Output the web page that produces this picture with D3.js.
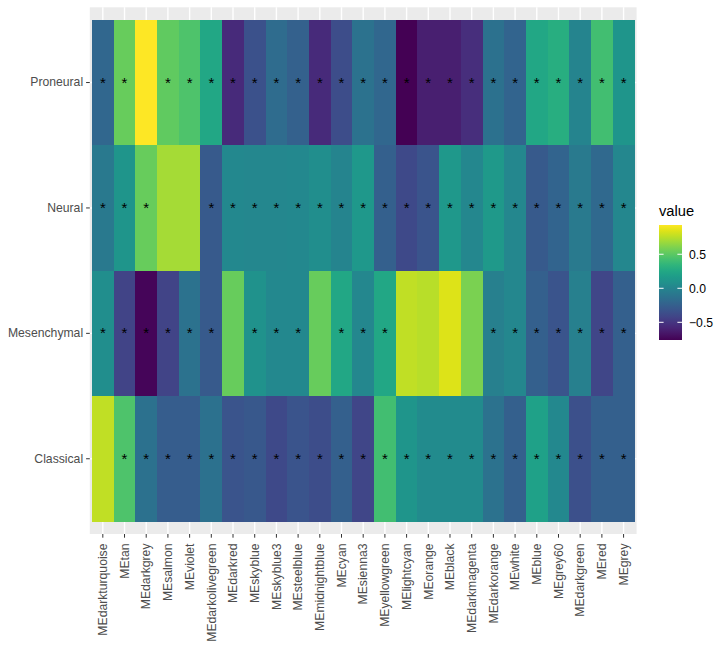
<!DOCTYPE html>
<html>
<head>
<meta charset="utf-8">
<script src="https://cdn.jsdelivr.net/npm/d3@7"></script>
<style>
  html, body { margin: 0; padding: 0; background: #fff; }
  svg { display: block; font-family: "Liberation Sans", Arial, sans-serif; }
</style>
</head>
<body>
<svg id="chart" width="725" height="647"></svg>
<script>
// ---- data ----
const modules = ["MEdarkturquoise","MEtan","MEdarkgrey","MEsalmon","MEviolet","MEdarkolivegreen",
  "MEdarkred","MEskyblue","MEskyblue3","MEsteelblue","MEmidnightblue","MEcyan","MEsienna3",
  "MEyellowgreen","MElightcyan","MEorange","MEblack","MEdarkmagenta","MEdarkorange","MEwhite",
  "MEblue","MEgrey60","MEdarkgreen","MEred","MEgrey"];
const subtypes = ["Proneural","Neural","Mesenchymal","Classical"];

const proneural   = [-0.20, 0.54, 0.93, 0.52, 0.46, 0.25, -0.56, -0.34, -0.17, -0.24, -0.56, -0.37, -0.12,
                     -0.20, -0.76, -0.62, -0.62, -0.54, -0.13, -0.22, 0.25, 0.30, 0.00, 0.42, 0.12];
const neural      = [-0.08, 0.12, 0.54, 0.70, 0.70, -0.29, 0.03, 0.02, 0.02, 0.03, 0.07, 0.00, 0.14,
                     -0.25, -0.39, -0.32, 0.14, 0.02, 0.15, 0.02, -0.29, -0.22, -0.07, -0.19, 0.02];
const mesenchymal = [0.07, -0.42, -0.74, -0.42, -0.12, -0.29, 0.54, 0.10, 0.03, 0.03, 0.54, 0.25, 0.02,
                     0.25, 0.77, 0.75, 0.84, 0.59, -0.03, 0.02, -0.25, -0.32, -0.03, -0.41, -0.25];
const classical   = [0.77, 0.46, -0.13, -0.27, -0.27, -0.13, -0.32, -0.30, -0.39, -0.32, -0.37, -0.25, -0.41,
                     0.42, 0.12, 0.05, 0.05, 0.05, -0.12, -0.25, 0.20, 0.03, -0.35, -0.25, -0.25];

const sigProneural   = [1,1,0,1,1,1,1,1,1,1,1,1,1,1,1,1,1,1,1,1,1,1,1,1,1];
const sigNeural      = [1,1,1,0,0,1,1,1,1,1,1,1,1,1,1,1,1,1,1,1,1,1,1,1,1];
const sigMesenchymal = [1,1,1,1,1,1,0,1,1,1,0,1,1,1,0,0,0,0,1,1,1,1,1,1,1];
const sigClassical   = [0,1,1,1,1,1,1,1,1,1,1,1,1,1,1,1,1,1,1,1,1,1,1,1,1];

const legendTicks = [-0.5, 0.0, 0.5];
const legendTitle = "value";

// ---- build cells ----
const rowValues = [proneural, neural, mesenchymal, classical];
const rowSig = [sigProneural, sigNeural, sigMesenchymal, sigClassical];
const cells = [];
subtypes.forEach((s, r) => {
  modules.forEach((m, c) => {
    cells.push({ row: s, col: m, value: rowValues[r][c], sig: rowSig[r][c] ? "*" : "" });
  });
});

// ---- layout ----
const svg = d3.select("#chart");
const panel = { left: 89.8, right: 636.6, top: 7.3, bottom: 534 };
const axisColor = "#4D4D4D";
const tickColor = "#333333";
const axisFont = 12.2;

const nx = modules.length, ny = subtypes.length;
const xUnit = (panel.right - panel.left) / (nx + 0.2);
const yUnit = (panel.bottom - panel.top) / (ny + 0.2);
const x = d3.scaleBand().domain(modules)
  .range([panel.left + 0.1 * xUnit, panel.right - 0.1 * xUnit]).padding(0);
const y = d3.scaleBand().domain(subtypes)
  .range([panel.top + 0.1 * yUnit, panel.bottom - 0.1 * yUnit]).padding(0);

const ext = d3.extent(cells, d => d.value);
const color = d3.scaleSequential(d3.interpolateViridis).domain(ext);

// panel background
svg.append("rect")
  .attr("x", panel.left).attr("y", panel.top)
  .attr("width", panel.right - panel.left).attr("height", panel.bottom - panel.top)
  .attr("fill", "#EBEBEB");

// grid lines
const grid = svg.append("g");
grid.selectAll("line.vx").data(modules).enter().append("line")
  .attr("x1", d => x(d) + x.bandwidth() / 2).attr("x2", d => x(d) + x.bandwidth() / 2)
  .attr("y1", panel.top).attr("y2", panel.bottom)
  .attr("stroke", "#fff").attr("stroke-width", 1.4);
grid.selectAll("line.hy").data(subtypes).enter().append("line")
  .attr("y1", d => y(d) + y.bandwidth() / 2).attr("y2", d => y(d) + y.bandwidth() / 2)
  .attr("x1", panel.left).attr("x2", panel.right)
  .attr("stroke", "#fff").attr("stroke-width", 1.4);

// tiles
svg.append("g").selectAll("rect").data(cells).enter().append("rect")
  .attr("x", d => x(d.col)).attr("y", d => y(d.row))
  .attr("width", x.bandwidth() + 0.3).attr("height", y.bandwidth() + 0.3)
  .attr("fill", d => color(d.value))
  .attr("shape-rendering", "crispEdges");

// asterisks
svg.append("g").selectAll("text").data(cells.filter(d => d.sig)).enter().append("text")
  .attr("x", d => x(d.col) + x.bandwidth() / 2)
  .attr("y", d => y(d.row) + y.bandwidth() / 2 + 5)
  .attr("text-anchor", "middle")
  .attr("font-size", 15)
  .attr("fill", "#000")
  .text(d => d.sig);

// y axis
const yAxis = svg.append("g").attr("transform", `translate(${panel.left},0)`)
  .call(d3.axisLeft(y).tickSize(3.7).tickPadding(3));
yAxis.select(".domain").remove();
yAxis.selectAll(".tick line").attr("stroke", tickColor).attr("stroke-width", 1);
yAxis.selectAll(".tick text").attr("fill", axisColor)
  .attr("font-size", axisFont).attr("font-family", "Liberation Sans, Arial, sans-serif");

// x axis
const xAxis = svg.append("g").attr("transform", `translate(0,${panel.bottom})`)
  .call(d3.axisBottom(x).tickSize(3.7).tickPadding(2.5));
xAxis.select(".domain").remove();
xAxis.selectAll(".tick line").attr("stroke", tickColor).attr("stroke-width", 1);
xAxis.selectAll(".tick text")
  .attr("fill", axisColor).attr("font-size", axisFont)
  .attr("font-family", "Liberation Sans, Arial, sans-serif")
  .attr("transform", "rotate(-90)")
  .attr("text-anchor", "end")
  .attr("x", -9.5).attr("y", 0).attr("dy", "0.35em");

// legend
const lg = { x: 659, top: 225, height: 115, width: 23 };
const defs = svg.append("defs");
const grad = defs.append("linearGradient").attr("id", "vgrad")
  .attr("x1", "0").attr("y1", "1").attr("x2", "0").attr("y2", "0");
d3.range(0, 1.0001, 0.05).forEach(t => {
  grad.append("stop").attr("offset", t).attr("stop-color", d3.interpolateViridis(t));
});
svg.append("text").attr("x", lg.x).attr("y", lg.top - 9)
  .attr("font-size", 14.7).attr("fill", "#000").text(legendTitle);
svg.append("rect").attr("x", lg.x).attr("y", lg.top)
  .attr("width", lg.width).attr("height", lg.height).attr("fill", "url(#vgrad)");
const ly = d3.scaleLinear().domain(ext).range([lg.top + lg.height, lg.top]);
const lt = svg.append("g");
legendTicks.forEach(v => {
  lt.append("line").attr("x1", lg.x).attr("x2", lg.x + lg.width / 5)
    .attr("y1", ly(v)).attr("y2", ly(v)).attr("stroke", "#fff").attr("stroke-width", 1);
  lt.append("line").attr("x1", lg.x + lg.width - lg.width / 5).attr("x2", lg.x + lg.width)
    .attr("y1", ly(v)).attr("y2", ly(v)).attr("stroke", "#fff").attr("stroke-width", 1);
  lt.append("text").attr("x", lg.x + lg.width + 7).attr("y", ly(v)).attr("dy", "0.35em")
    .attr("font-size", axisFont).attr("fill", "#000").text(d3.format(".1f")(v));
});
</script>
</body>
</html>
